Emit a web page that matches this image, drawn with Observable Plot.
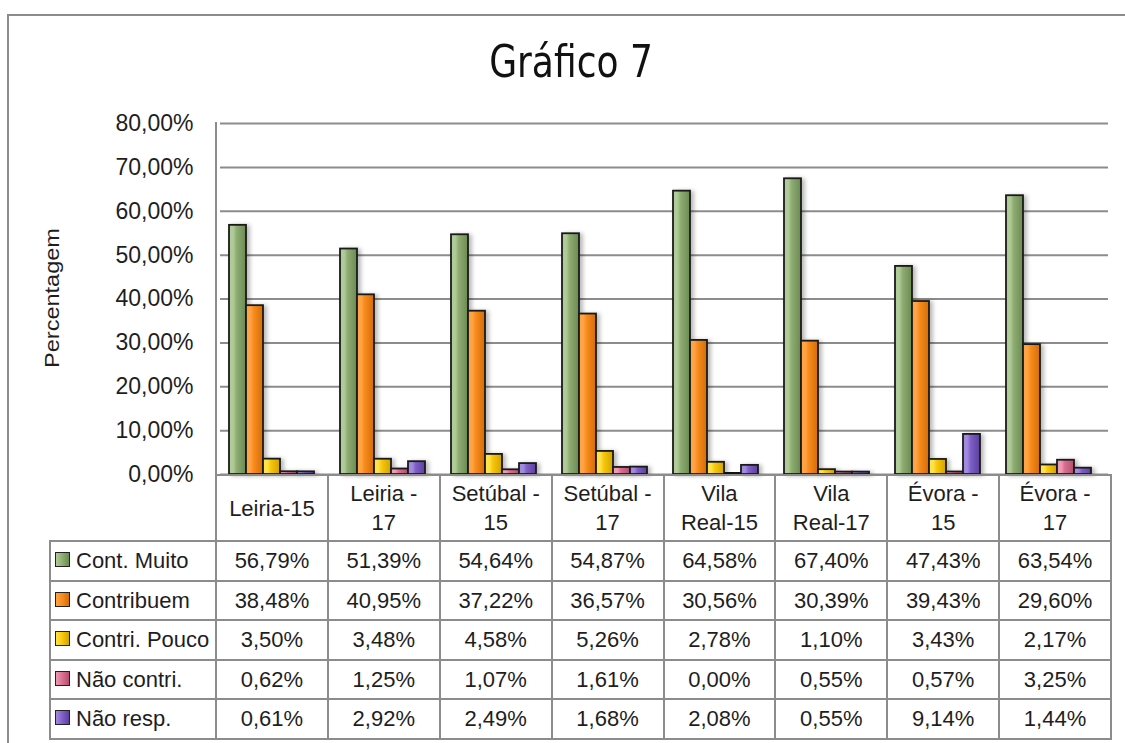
<!DOCTYPE html>
<html><head><meta charset="utf-8">
<script src="https://cdn.jsdelivr.net/npm/d3@7"></script>
<script src="https://cdn.jsdelivr.net/npm/@observablehq/plot@0.6"></script>
<style>
html,body{margin:0;padding:0;background:#fff;}
#wrap{position:relative;width:1125px;height:743px;overflow:hidden;font-family:"Liberation Sans",Arial,sans-serif;color:#1e1e1e;background:#fff;}
#frame{position:absolute;left:7px;top:14px;width:1140px;height:760px;border:2px solid #8c8c8c;box-sizing:border-box;}
#title{position:absolute;left:7px;width:1128px;top:37px;text-align:center;font-family:"Liberation Sans Narrow","DejaVu Sans Condensed",sans-serif;font-size:45px;line-height:50px;color:#111;transform:scaleX(0.89);}
#ylabel{position:absolute;left:52px;top:298px;transform:translate(-50%,-50%) rotate(-90deg) scaleX(1.12);font-size:21px;white-space:nowrap;}
#chart{position:absolute;left:0;top:100px;}
#leftline{position:absolute;left:215px;top:122px;width:2px;height:353px;background:#8c8c8c;}
#tbl{position:absolute;left:49px;top:474px;border-collapse:collapse;table-layout:fixed;font-size:22px;color:#1e1e1e;}
#tbl td{border:2px solid #8c8c8c;text-align:center;padding:0;white-space:pre-line;line-height:29px;}
#tbl tr.head td{height:64px;}
#tbl tr.row td{height:37.5px;}
#tbl td.blank{border-top:none;border-left:none;}
#tbl td.leg{text-align:left;padding-left:4px;white-space:nowrap;}
.sw{display:inline-block;width:13px;height:13px;border:1.5px solid #222;margin-right:6px;vertical-align:1px;}
#chart g[aria-label="bar"] rect{filter:drop-shadow(3px 1px 2px rgba(0,0,0,0.28));}
</style></head>
<body>
<div id="wrap">
  <div id="frame"></div>
  <div id="title">Gráfico 7</div>
  <div id="ylabel">Percentagem</div>
  <div id="chart"></div>
  <div id="leftline"></div>
  <table id="tbl"></table>
</div>
<script>
// ---- data ----
const categories = ["Leiria-15", "Leiria - 17", "Setúbal - 15", "Setúbal - 17", "Vila Real-15", "Vila Real-17", "Évora - 15", "Évora - 17"];
const categoryLabels = ["Leiria-15", "Leiria -\n17", "Setúbal -\n15", "Setúbal -\n17", "Vila\nReal-15", "Vila\nReal-17", "Évora -\n15", "Évora -\n17"];
const seriesNames = ["Cont. Muito", "Contribuem", "Contri. Pouco", "Não contri.", "Não resp."];
const contMuito   = [56.79, 51.39, 54.64, 54.87, 64.58, 67.40, 47.43, 63.54];
const contribuem  = [38.48, 40.95, 37.22, 36.57, 30.56, 30.39, 39.43, 29.60];
const contriPouco = [3.50, 3.48, 4.58, 5.26, 2.78, 1.10, 3.43, 2.17];
const naoContri   = [0.62, 1.25, 1.07, 1.61, 0.00, 0.55, 0.57, 3.25];
const naoResp     = [0.61, 2.92, 2.49, 1.68, 2.08, 0.55, 9.14, 1.44];
const yTicks = [0, 10, 20, 30, 40, 50, 60, 70, 80];

// ---- styles ----
const seriesValues = [contMuito, contribuem, contriPouco, naoContri, naoResp];
const palette = [
  ["#afcb97", "#8eac72", "#6b8a52"],
  ["#ffa445", "#f88b1c", "#d26d08"],
  ["#ffe24a", "#f7c80a", "#d2a200"],
  ["#f09ab4", "#d96f90", "#b24e6e"],
  ["#a28ae0", "#7e5fc6", "#5c3f9e"]
];
const gradIds = seriesNames.map((_, i) => "grad" + i);
const fmt = v => v.toFixed(2).replace(".", ",") + "%";

const data = [];
categories.forEach((c, i) => seriesNames.forEach((s, j) => data.push({cat: c, series: s, value: seriesValues[j][i]})));

const plot = Plot.plot({
  width: 1125, height: 380,
  marginTop: 23, marginBottom: 6, marginLeft: 216, marginRight: 14,
  style: {fontFamily: "'Liberation Sans', Arial, sans-serif", fontSize: "23px", color: "#1e1e1e", background: "transparent", overflow: "visible"},
  fx: {domain: categories, padding: 0, axis: null},
  x: {domain: seriesNames, paddingInner: 0, paddingOuter: 0.72, align: 0.35, axis: null},
  y: {domain: [0, 80], ticks: yTicks, tickFormat: fmt, tickSize: 0, tickPadding: 27, label: null},
  color: {type: "ordinal", domain: seriesNames, range: gradIds.map(id => `url(#${id})`)},
  marks: [
    Plot.ruleY(yTicks, {stroke: "#8c8c8c", strokeWidth: 2, strokeOpacity: 1}),
    Plot.barY(data, {fx: "cat", x: "series", y: "value", fill: "series", stroke: "#1a1a1a", strokeWidth: 1.8}),
    Plot.tickY(data.filter(d => d.value === 0), {fx: "cat", x: "series", y: "value", stroke: "#111", strokeWidth: 3, dy: -1})
  ]
});
const defs = d3.select(plot).insert("defs", ":first-child");
palette.forEach((cols, i) => {
  const g = defs.append("linearGradient").attr("id", gradIds[i]).attr("x1", 0).attr("x2", 1).attr("y1", 0).attr("y2", 0);
  g.append("stop").attr("offset", "0%").attr("stop-color", cols[0]);
  g.append("stop").attr("offset", "25%").attr("stop-color", cols[0]);
  g.append("stop").attr("offset", "45%").attr("stop-color", cols[1]);
  g.append("stop").attr("offset", "100%").attr("stop-color", cols[2]);
});
document.getElementById("chart").appendChild(plot);

// ---- data table ----
const tbl = d3.select("#tbl");
const cg = tbl.append("colgroup");
cg.append("col").style("width", "166px");
categories.forEach(() => cg.append("col").style("width", "111.875px"));
const head = tbl.append("tr").attr("class", "head");
head.append("td").attr("class", "blank");
categoryLabels.forEach(l => head.append("td").text(l));
seriesNames.forEach((s, j) => {
  const tr = tbl.append("tr").attr("class", "row");
  const td = tr.append("td").attr("class", "leg");
  td.append("span").attr("class", "sw")
    .style("background", `linear-gradient(90deg, ${palette[j][0]} 0%, ${palette[j][1]} 50%, ${palette[j][2]} 100%)`);
  td.append("span").text(s);
  seriesValues[j].forEach(v => tr.append("td").text(fmt(v)));
});
</script>
</body></html>
